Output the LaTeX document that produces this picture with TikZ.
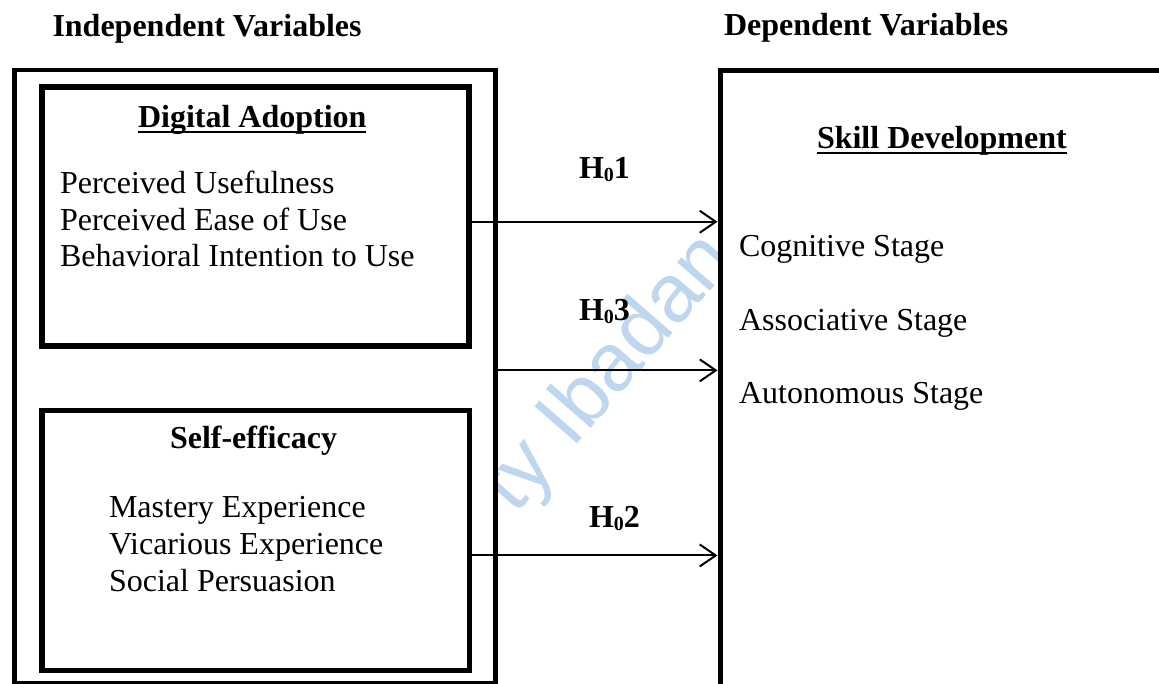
\documentclass[tikz,border=0pt]{standalone}
\usepackage{fontspec}
\setmainfont{Liberation Serif}
\newfontfamily\wmfont{Liberation Sans}
\usetikzlibrary{arrows.meta,calc}
\definecolor{wmblue}{RGB}{190,214,238}
\begin{document}
\begin{tikzpicture}[x=1pt,y=-1pt,
  txt/.style={inner sep=0pt, outer sep=0pt, anchor=base west, font=\fontsize{32}{37}\selectfont},
  btxt/.style={txt, font=\fontsize{32}{37}\selectfont\bfseries},
  box/.style={draw=black, fill=white, line width=#1, inner sep=0pt},
  box/.default=5.5pt,
  arr/.style={line width=2pt, -{Straight Barb[length=16pt, width=22pt, line width=2pt]}},
  uline/.style={line width=2.2pt},
  wm/.style={text=wmblue, font=\fontsize{82}{82}\wmfont, inner sep=0pt}
]
\useasboundingbox[fill=white] (0,0) rectangle (1159,683);

% faint diagonal watermark lying behind the white boxes
\node[wm, rotate=49] (wmark) at (610,374) {ty Ibadan};

% frames
\node[box=4.7pt, minimum width=481pt, minimum height=613pt, anchor=north west] (outer) at (12,67.5) {};
\node[box=5pt, minimum width=490pt, minimum height=680pt, anchor=north west] (dv) at (717.5,67.5) {};
\node[box, minimum width=427pt, minimum height=259pt, anchor=north west] (da) at (39,84) {};
\node[box, minimum width=427.5pt, minimum height=260pt, anchor=north west] (se) at (39,407.5) {};

% column headings
\node[btxt] (iv) at (52.5,36) {Independent Variables};
\node[btxt] (dvh) at (724,35) {Dependent Variables};

% digital adoption
\node[btxt] (dat) at (138,127) {Digital Adoption\hspace{0.25em}};
\draw[uline] ($(dat.base west)+(0,5)$) -- ($(dat.base east)+(0,5)$);
\node[txt] (pu) at (60,193.3) {Perceived Usefulness};
\node[txt] (pe) at (60,230) {Perceived Ease of Use};
\node[txt] (bi) at (60,266.7) {Behavioral Intention to Use};

% self-efficacy
\node[btxt] (set) at (170,448.3) {Self-efficacy};
\node[txt] (me) at (109,517) {Mastery Experience};
\node[txt] (ve) at (109,554) {Vicarious Experience};
\node[txt] (sp) at (109,591) {Social Persuasion};

% skill development
\node[btxt] (sdt) at (817,148.3) {Skill Development};
\draw[uline] ($(sdt.base west)+(0,5)$) -- ($(sdt.base east)+(0,5)$);
\node[txt] (cs) at (739,256.7) {Cognitive Stage};
\node[txt] (as) at (739,330) {Associative Stage};
\node[txt] (aus) at (739,403.3) {Autonomous Stage};

% hypotheses
\draw[arr] ([yshift=-5.5pt]da.east) -- ([yshift=-5.5pt]da.east -| dv.west);
\draw[arr] ([yshift=6pt]outer.east) -- ([yshift=6pt]outer.east -| dv.west);
\draw[arr] ([yshift=-15.2pt]se.east) -- ([yshift=-15.2pt]se.east -| dv.west);
\node[btxt] (h1) at (579,178.3) {H\raisebox{-3pt}{\fontsize{20}{20}\selectfont 0}1};
\node[btxt] (h3) at (579,320.7) {H\raisebox{-3pt}{\fontsize{20}{20}\selectfont 0}3};
\node[btxt] (h2) at (589,527.3) {H\raisebox{-3pt}{\fontsize{20}{20}\selectfont 0}2};
\end{tikzpicture}
\end{document}
